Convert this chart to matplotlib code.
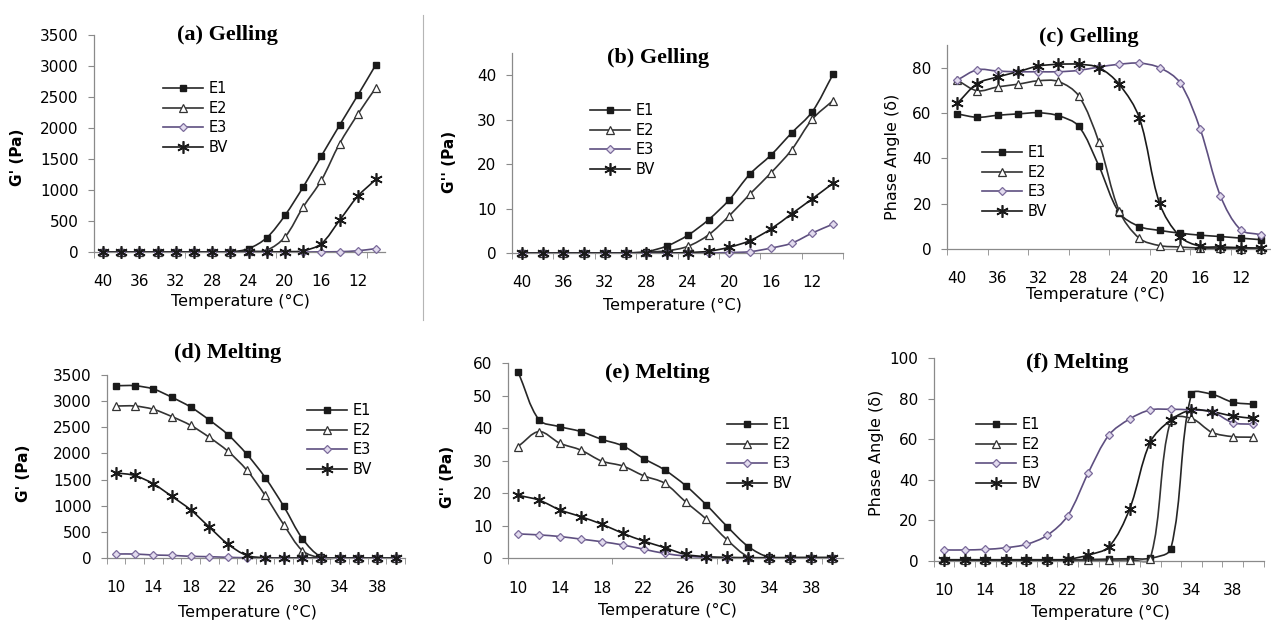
# Rheology of gelatin samples: G', G'' and phase angle during gelling and melting
import numpy as np
import matplotlib.pyplot as plt
from matplotlib.path import Path
from matplotlib.patches import PathPatch
from matplotlib.lines import Line2D

# Temperature categories (°C)
temps_gel = [40, 38, 36, 34, 32, 30, 28, 26, 24, 22, 20, 18, 16, 14, 12, 10]
temps_melt = [10, 12, 14, 16, 18, 20, 22, 24, 26, 28, 30, 32, 34, 36, 38, 40]
series = ["E1", "E2", "E3", "BV"]

# (a) Gelling, G' (Pa)
a_E1 = [0, 0, 0, 0, 0, 0, 0, 0, 55, 231, 591, 1048, 1548, 2043, 2527, 3022]
a_E2 = [0, 0, 0, 0, 0, 0, 0, 0, 10, 30, 242, 726, 1156, 1747, 2220, 2650]
a_E3 = [0, 0, 0, 0, 0, 0, 0, 0, 0, 0, 0, 0, 3, 5, 20, 55]
a_BV = [0, 0, 0, 0, 0, 0, 0, 0, 0, 0, 5, 20, 134, 510, 898, 1172]

# (b) Gelling, G'' (Pa)
b_E1 = [0, 0, 0, 0, 0, 0, 0.3, 1.6, 4.0, 7.5, 12.0, 17.8, 22.0, 27.0, 31.8, 40.2]
b_E2 = [0, 0, 0, 0, 0, 0, 0.2, 0.5, 1.5, 4.1, 8.4, 13.3, 18.0, 23.2, 30.1, 34.3]
b_E3 = [0, 0, 0, 0, 0, 0, 0, 0, 0, 0, 0.1, 0.3, 1.1, 2.2, 4.5, 6.5]
b_BV = [0, 0, 0, 0, 0, 0, 0, 0, 0.1, 0.4, 1.3, 2.8, 5.4, 8.8, 12.2, 15.7]

# (c) Gelling, phase angle
c_E1 = [59.6, 58.1, 59.0, 59.6, 60.1, 58.8, 54.2, 36.6, 16.1, 9.9, 8.2, 7.0, 6.1, 5.5, 4.8, 4.1]
c_E2 = [74.5, 69.8, 71.5, 72.7, 74.2, 73.9, 67.6, 47.2, 16.9, 4.7, 1.5, 0.9, 0.4, 0.3, 0.2, 0.2]
c_E3 = [74.5, 79.1, 78.5, 78.2, 78.2, 78.2, 78.8, 80.3, 81.5, 82.0, 80.0, 73.4, 53.0, 23.5, 8.5, 6.3]
c_BV = [64.2, 73.0, 75.9, 78.2, 80.7, 81.5, 81.5, 80.0, 72.7, 57.8, 20.1, 5.5, 1.2, 0.9, 0.6, 0.4]

# (d) Melting, G' (Pa)
d_E1 = [3295, 3295, 3232, 3073, 2888, 2640, 2360, 1991, 1539, 986, 369, 20, 0, 0, 0, 0]
d_E2 = [2907, 2907, 2844, 2704, 2538, 2309, 2042, 1686, 1196, 636, 140, 0, 0, 0, 0, 0]
d_E3 = [76, 76, 57, 50, 32, 25, 13, 5, 0, 0, 0, 0, 0, 0, 0, 0]
d_BV = [1628, 1578, 1419, 1177, 922, 592, 267, 51, 5, 0, 0, 0, 0, 0, 0, 0]

# (e) Melting, G'' (Pa)
e_E1 = [57.4, 42.6, 40.5, 39.0, 36.6, 34.6, 30.7, 27.2, 22.4, 16.4, 9.7, 3.6, 0.3, 0.2, 0.2, 0.2]
e_E2 = [34.4, 39.0, 35.4, 33.3, 29.9, 28.4, 25.4, 23.1, 17.4, 12.0, 5.6, 0.5, 0.2, 0.2, 0.2, 0.2]
e_E3 = [7.5, 7.2, 6.7, 5.9, 5.1, 4.1, 2.8, 1.5, 0.7, 0.3, 0.1, 0.1, 0.1, 0.1, 0.1, 0.1]
e_BV = [19.4, 17.9, 14.9, 12.8, 10.5, 7.7, 5.3, 3.3, 1.2, 0.5, 0.3, 0.2, 0.2, 0.2, 0.2, 0.2]

# (f) Melting, phase angle
f_E1 = [0.5, 0.5, 0.5, 0.5, 0.5, 0.5, 0.5, 0.6, 0.8, 1.0, 1.2, 5.9, 82.2, 82.2, 78.3, 77.3]
f_E2 = [0.2, 0.2, 0.2, 0.2, 0.2, 0.2, 0.2, 0.3, 0.3, 0.4, 1.0, 69.5, 70.3, 63.4, 61.3, 61.0]
f_E3 = [5.3, 5.3, 5.6, 6.4, 8.1, 12.5, 22.2, 43.5, 62.1, 70.0, 74.5, 74.8, 74.5, 73.6, 68.2, 67.4]
f_BV = [0.3, 0.3, 0.3, 0.3, 0.3, 0.3, 0.7, 2.8, 6.9, 25.5, 58.5, 69.5, 74.5, 73.6, 71.5, 70.3]

W, H = 1271, 621

styles = {
    "E1": dict(marker="s", ms=4.8, mfc="#1a1a1a", mec="#1a1a1a", mew=1.0, color="#262626"),
    "E2": dict(marker="^", ms=5.5, mfc="white", mec="#333333", mew=0.9, color="#333333"),
    "E3": dict(marker="D", ms=3.8, mfc="#e2dbee", mec="#7a6a9a", mew=0.9, color="#5e4f80"),
    "BV": dict(marker=(6, 2, 0), ms=9, mfc="none", mec="#1a1a1a", mew=1.2, color="#1a1a1a"),
}

# panel layout in pixels: axes box (left, right, top, bottom), title, labels, legend
panels = [
    dict(temps=temps_gel, data=[a_E1, a_E2, a_E3, a_BV], box=(94, 385, 35, 252),
         ylim=3500, ystep=500, tickevery=5, title="(a) Gelling", tpos=(227, 35),
         ylabel="G' (Pa)", ybold=True, ypos=(17, 157), xpos=(240, 301), leg=(163, 81)),
    dict(temps=temps_gel, data=[b_E1, b_E2, b_E3, b_BV], box=(511.6, 843.4, 53, 253),
         ylim=45, ystep=10, ymaxtick=40, tickevery=2, title="(b) Gelling", tpos=(658, 58),
         ylabel="G'' (Pa)", ybold=True, ypos=(449, 162), xpos=(672, 305), leg=(590, 103)),
    dict(temps=temps_gel, data=[c_E1, c_E2, c_E3, c_BV], box=(947, 1271, 45, 249),
         ylim=90, ystep=20, ymaxtick=80, tickevery=2, title="(c) Gelling", tpos=(1089, 37),
         ylabel="Phase Angle (δ)", ybold=False, ypos=(893, 157), xpos=(1095, 294),
         leg=(982, 145)),
    dict(temps=temps_melt, data=[d_E1, d_E2, d_E3, d_BV], box=(106.7, 405, 375, 558),
         ylim=3500, ystep=500, tickevery=1, title="(d) Melting", tpos=(228, 353),
         ylabel="G' (Pa)", ybold=True, ypos=(24, 473), xpos=(247, 612), leg=(307, 403)),
    dict(temps=temps_melt, data=[e_E1, e_E2, e_E3, e_BV], box=(507.6, 842.5, 363.3, 558.3),
         ylim=60, ystep=10, tickevery=5, title="(e) Melting", tpos=(657, 373),
         ylabel="G'' (Pa)", ybold=True, ypos=(447, 477), xpos=(667, 610), leg=(727, 417)),
    dict(temps=temps_melt, data=[f_E1, f_E2, f_E3, f_BV], box=(933.7, 1263.6, 358.3, 560.7),
         ylim=100, ystep=20, tickevery=1, title="(f) Melting", tpos=(1077, 363),
         ylabel="Phase Angle (δ)", ybold=False, ypos=(876, 453), xpos=(1100, 612),
         leg=(976, 417)),
]


def smooth_path(x, y, sx, sy):
    # Excel-like smoothed line: Bezier segments, tangents split by screen chord length
    p = np.column_stack([x, y]).astype(float)
    n = len(p)
    q = np.vstack([p[:1], p, p[-1:]])
    before, after = np.zeros_like(p), np.zeros_like(p)
    for i in range(n):
        prev, cur, nxt = q[i], q[i + 1], q[i + 2]
        tan = nxt - prev
        d0 = np.hypot((cur[0] - prev[0]) * sx, (cur[1] - prev[1]) * sy)
        d1 = np.hypot((nxt[0] - cur[0]) * sx, (nxt[1] - cur[1]) * sy)
        tot = d0 + d1
        if tot == 0:
            before[i] = after[i] = cur
            continue
        before[i] = cur - tan * (d0 / tot) / 3
        after[i] = cur + tan * (d1 / tot) / 3
    verts = [tuple(p[0])]
    codes = [Path.MOVETO]
    for i in range(n - 1):
        verts += [tuple(after[i]), tuple(before[i + 1]), tuple(p[i + 1])]
        codes += [Path.CURVE4] * 3
    return Path(verts, codes)


def fx(px):
    return px / W


def fy(py):
    return 1 - py / H


fig = plt.figure(figsize=(W / 100, H / 100), dpi=100)
axis_gray = "#8a8a8a"

for pn in panels:
    l, r, t, b = pn["box"]
    ax = fig.add_axes([fx(l), fy(b), (r - l) / W, (b - t) / H])
    xs = np.arange(len(pn["temps"]))
    sx = (r - l) / len(xs)
    sy = (b - t) / pn["ylim"]
    for name, ys in zip(series, pn["data"]):
        st = styles[name]
        ax.add_patch(PathPatch(smooth_path(xs, ys, sx, sy), fill=False, edgecolor=st["color"],
                               lw=1.2, clip_on=False, zorder=2))
        ax.plot(xs, ys, ls="none", marker=st["marker"], ms=st["ms"], mfc=st["mfc"],
                mec=st["mec"], mew=st["mew"], clip_on=False, zorder=3)
    ax.set_xlim(-0.5, len(xs) - 0.5)
    ax.set_ylim(0, pn["ylim"])
    ymax_tick = pn.get("ymaxtick", pn["ylim"])
    ax.set_yticks(np.arange(0, ymax_tick + 1, pn["ystep"]))
    # labels on every other category, tick marks on category boundaries
    ax.set_xticks(xs[::2])
    ax.set_xticklabels([str(tv) for tv in pn["temps"][::2]])
    ax.set_xticks(np.arange(-0.5, len(xs), pn["tickevery"]), minor=True)
    ax.tick_params(axis="x", which="major", length=0, pad=16, labelsize=11)
    ax.tick_params(axis="x", which="minor", length=4, color=axis_gray, direction="out")
    ax.tick_params(axis="y", length=4, color=axis_gray, pad=7, labelsize=11)
    for s in ["top", "right"]:
        ax.spines[s].set_visible(False)
    for s in ["left", "bottom"]:
        ax.spines[s].set_color(axis_gray)
        ax.spines[s].set_linewidth(0.9)
    ax.patch.set_alpha(0)

    handles = [Line2D([], [], color=styles[n]["color"], lw=1.2, marker=styles[n]["marker"],
                      ms=styles[n]["ms"], mfc=styles[n]["mfc"], mec=styles[n]["mec"],
                      mew=styles[n]["mew"]) for n in series]
    lx, ly = pn["leg"]
    fig.legend(handles, series, loc="upper left", bbox_to_anchor=(fx(lx), fy(ly)),
               frameon=False, fontsize=10.5, borderpad=0, borderaxespad=0,
               handlelength=2.75, handletextpad=0.4, labelspacing=0.32)

    fig.text(fx(pn["tpos"][0]), fy(pn["tpos"][1]), pn["title"], ha="center", va="center",
             fontsize=16, fontweight="bold", family="Liberation Serif")
    fig.text(fx(pn["ypos"][0]), fy(pn["ypos"][1]), pn["ylabel"], ha="center", va="center",
             rotation=90, fontsize=11 if pn["ybold"] else 11.5,
             fontweight="bold" if pn["ybold"] else "normal")
    fig.text(fx(pn["xpos"][0]), fy(pn["xpos"][1]), "Temperature (°C)", ha="center",
             va="center", fontsize=11.5)

# thin divider between the first two gelling panels
fig.add_artist(Line2D([fx(423), fx(423)], [fy(15), fy(320)], color="#b5b5b5", lw=0.8))

fig.savefig("out.png", dpi=100)
